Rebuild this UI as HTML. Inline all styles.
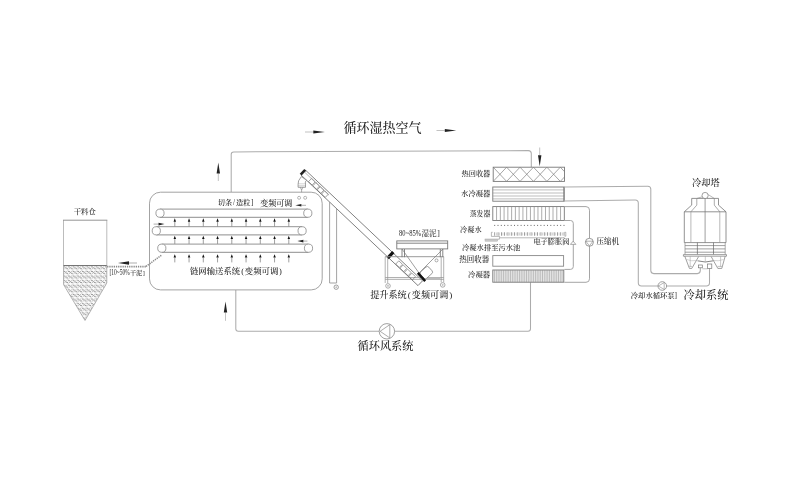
<!DOCTYPE html>
<html lang="zh-CN">
<head>
<meta charset="utf-8">
<title>循环湿热空气 污泥干化系统流程图</title>
<style>
html,body{margin:0;padding:0;background:#fff;}
body{width:786px;height:478px;overflow:hidden;}
svg{display:block;will-change:transform;font-family:"Liberation Serif","Noto Serif CJK SC",serif;}
</style>
</head>
<body>
<svg width="786" height="478" viewBox="0 0 786 478">
<rect x="0" y="0" width="786" height="478" fill="#ffffff"/>
<text x="382.50" y="131.50" font-size="13" text-anchor="middle" fill="#222" font-weight="500" >循环湿热空气</text>
<line x1="305.00" y1="132.00" x2="313.30" y2="132.00" stroke="#999" stroke-width="0.6" />
<polygon points="324.80,132.00 313.30,133.60 313.30,130.40" fill="#222"/>
<line x1="436.50" y1="130.50" x2="444.80" y2="130.50" stroke="#999" stroke-width="0.6" />
<polygon points="456.30,130.50 444.80,132.10 444.80,128.90" fill="#222"/>
<path d="M231.2,192 V154.4 Q231.2,151.9 233.7,151.9 L528.3,150.6 Q531.3,150.6 531.3,153.6 V167" stroke="#acacac" stroke-width="1.05" fill="none" />
<path d="M235.8,290 V328.8 Q235.8,331.3 238.3,331.3 H528 Q530.5,331.3 530.5,328.8 V282.3" stroke="#acacac" stroke-width="1.05" fill="none" />
<line x1="218.30" y1="181.00" x2="218.30" y2="173.50" stroke="#999" stroke-width="0.6" />
<polygon points="218.30,162.50 220.00,173.50 216.60,173.50" fill="#222"/>
<line x1="225.50" y1="320.80" x2="225.50" y2="312.50" stroke="#999" stroke-width="0.6" />
<polygon points="225.50,301.50 227.20,312.50 223.80,312.50" fill="#222"/>
<line x1="539.70" y1="147.50" x2="539.70" y2="155.30" stroke="#999" stroke-width="0.6" />
<polygon points="539.70,166.30 538.00,155.30 541.40,155.30" fill="#222"/>
<circle cx="386.90" cy="331.30" r="7.70" stroke="#888" stroke-width="0.8" fill="#fff"/>
<path d="M380.1,331.3 L389.8,324.7 V337.9 Z" stroke="#888" stroke-width="0.7" fill="none" />
<text x="385.50" y="350.30" font-size="11.2" text-anchor="middle" fill="#222" font-weight="500" >循环风系统</text>
<defs><pattern id="hat" width="4.6" height="4.6" patternUnits="userSpaceOnUse" patternTransform="translate(63.5 265.5)"><rect width="4.6" height="4.6" fill="#fbfbfb"/><path d="M-0.6,1.2 Q1.2,0.7 2.3,2.3 T5.2,3.4 M-0.6,-3.4 Q1.2,-3.9 2.3,-2.3 T5.2,-1.2 M-0.6,5.8 Q1.2,5.3 2.3,6.9 T5.2,8" stroke="#666" stroke-width="0.75" fill="none"/><path d="M0.5,4.1 L4.1,0.5" stroke="#9a9a9a" stroke-width="0.6" fill="none"/></pattern></defs>
<polygon points="63.5,265.3 106.8,265.3 106.8,283 85,320.5 63.5,284.5" fill="url(#hat)" stroke="none"/>
<path d="M63.5,265.3 V220.2 M106.8,220.2 V265.3" stroke="#b4b4b4" stroke-width="0.9" fill="none" />
<line x1="63.00" y1="220.20" x2="107.30" y2="220.20" stroke="#888" stroke-width="0.9" />
<path d="M63.5,265.3 V284.5 L85,320.5 L106.8,283 V265.3" stroke="#999" stroke-width="0.7" fill="none" />
<line x1="63.50" y1="265.50" x2="106.80" y2="265.50" stroke="#666" stroke-width="0.9" />
<text x="84.80" y="213.80" font-size="7.4" text-anchor="middle" fill="#222" font-weight="500" >干料仓</text>
<line x1="107.10" y1="266.60" x2="146.00" y2="266.60" stroke="#8a8a8a" stroke-width="1.7" stroke-dasharray="1.3 0.9"/>
<line x1="146.00" y1="266.40" x2="162.00" y2="254.80" stroke="#8a8a8a" stroke-width="1.5" stroke-dasharray="1.3 0.9"/>
<line x1="137.00" y1="263.00" x2="129.00" y2="263.00" stroke="#777" stroke-width="0.6" />
<polygon points="118.00,263.00 129.00,261.30 129.00,264.70" fill="#222"/>
<text transform="translate(109.50 275.40) scale(0.74 1)" font-size="7.4" fill="#222" font-weight="400">[10~50%</text>
<text x="130.00" y="275.40" font-size="6.1" text-anchor="start" fill="#222" font-weight="500" >干泥<tspan dx="0.5">]</tspan></text>
<rect x="149.50" y="192.20" width="172.70" height="97.70" rx="11" stroke="#999" stroke-width="0.9" fill="none" />
<line x1="160.00" y1="209.10" x2="307.80" y2="209.10" stroke="#888" stroke-width="0.9" />
<line x1="160.00" y1="217.30" x2="307.80" y2="217.30" stroke="#808080" stroke-width="0.9" />
<circle cx="160.00" cy="213.20" r="4.10" stroke="#888" stroke-width="0.8" fill="#fff"/>
<circle cx="307.80" cy="213.20" r="4.10" stroke="#888" stroke-width="0.8" fill="#fff"/>
<line x1="156.30" y1="226.70" x2="302.10" y2="226.70" stroke="#888" stroke-width="0.9" />
<line x1="156.30" y1="234.90" x2="302.10" y2="234.90" stroke="#808080" stroke-width="0.9" />
<circle cx="156.30" cy="230.80" r="4.10" stroke="#888" stroke-width="0.8" fill="#fff"/>
<circle cx="302.10" cy="230.80" r="4.10" stroke="#888" stroke-width="0.8" fill="#fff"/>
<line x1="161.80" y1="244.10" x2="308.50" y2="244.10" stroke="#888" stroke-width="0.9" />
<line x1="161.80" y1="252.30" x2="308.50" y2="252.30" stroke="#808080" stroke-width="0.9" />
<circle cx="161.80" cy="248.20" r="4.10" stroke="#888" stroke-width="0.8" fill="#fff"/>
<circle cx="308.50" cy="248.20" r="4.10" stroke="#888" stroke-width="0.8" fill="#fff"/>
<line x1="174.80" y1="226.50" x2="174.80" y2="221.70" stroke="#777" stroke-width="0.7" />
<polygon points="174.80,218.30 176.05,221.70 173.55,221.70" fill="#111"/>
<line x1="189.05" y1="226.50" x2="189.05" y2="221.70" stroke="#777" stroke-width="0.7" />
<polygon points="189.05,218.30 190.30,221.70 187.80,221.70" fill="#111"/>
<line x1="203.30" y1="226.50" x2="203.30" y2="221.70" stroke="#777" stroke-width="0.7" />
<polygon points="203.30,218.30 204.55,221.70 202.05,221.70" fill="#111"/>
<line x1="217.55" y1="226.50" x2="217.55" y2="221.70" stroke="#777" stroke-width="0.7" />
<polygon points="217.55,218.30 218.80,221.70 216.30,221.70" fill="#111"/>
<line x1="231.80" y1="226.50" x2="231.80" y2="221.70" stroke="#777" stroke-width="0.7" />
<polygon points="231.80,218.30 233.05,221.70 230.55,221.70" fill="#111"/>
<line x1="246.05" y1="226.50" x2="246.05" y2="221.70" stroke="#777" stroke-width="0.7" />
<polygon points="246.05,218.30 247.30,221.70 244.80,221.70" fill="#111"/>
<line x1="260.30" y1="226.50" x2="260.30" y2="221.70" stroke="#777" stroke-width="0.7" />
<polygon points="260.30,218.30 261.55,221.70 259.05,221.70" fill="#111"/>
<line x1="274.55" y1="226.50" x2="274.55" y2="221.70" stroke="#777" stroke-width="0.7" />
<polygon points="274.55,218.30 275.80,221.70 273.30,221.70" fill="#111"/>
<line x1="288.80" y1="226.50" x2="288.80" y2="221.70" stroke="#777" stroke-width="0.7" />
<polygon points="288.80,218.30 290.05,221.70 287.55,221.70" fill="#111"/>
<line x1="174.80" y1="243.90" x2="174.80" y2="239.10" stroke="#777" stroke-width="0.7" />
<polygon points="174.80,235.70 176.05,239.10 173.55,239.10" fill="#111"/>
<line x1="189.05" y1="243.90" x2="189.05" y2="239.10" stroke="#777" stroke-width="0.7" />
<polygon points="189.05,235.70 190.30,239.10 187.80,239.10" fill="#111"/>
<line x1="203.30" y1="243.90" x2="203.30" y2="239.10" stroke="#777" stroke-width="0.7" />
<polygon points="203.30,235.70 204.55,239.10 202.05,239.10" fill="#111"/>
<line x1="217.55" y1="243.90" x2="217.55" y2="239.10" stroke="#777" stroke-width="0.7" />
<polygon points="217.55,235.70 218.80,239.10 216.30,239.10" fill="#111"/>
<line x1="231.80" y1="243.90" x2="231.80" y2="239.10" stroke="#777" stroke-width="0.7" />
<polygon points="231.80,235.70 233.05,239.10 230.55,239.10" fill="#111"/>
<line x1="246.05" y1="243.90" x2="246.05" y2="239.10" stroke="#777" stroke-width="0.7" />
<polygon points="246.05,235.70 247.30,239.10 244.80,239.10" fill="#111"/>
<line x1="260.30" y1="243.90" x2="260.30" y2="239.10" stroke="#777" stroke-width="0.7" />
<polygon points="260.30,235.70 261.55,239.10 259.05,239.10" fill="#111"/>
<line x1="274.55" y1="243.90" x2="274.55" y2="239.10" stroke="#777" stroke-width="0.7" />
<polygon points="274.55,235.70 275.80,239.10 273.30,239.10" fill="#111"/>
<line x1="288.80" y1="243.90" x2="288.80" y2="239.10" stroke="#777" stroke-width="0.7" />
<polygon points="288.80,235.70 290.05,239.10 287.55,239.10" fill="#111"/>
<line x1="174.80" y1="262.40" x2="174.80" y2="257.60" stroke="#777" stroke-width="0.7" />
<polygon points="174.80,254.20 176.05,257.60 173.55,257.60" fill="#111"/>
<line x1="189.05" y1="262.40" x2="189.05" y2="257.60" stroke="#777" stroke-width="0.7" />
<polygon points="189.05,254.20 190.30,257.60 187.80,257.60" fill="#111"/>
<line x1="203.30" y1="262.40" x2="203.30" y2="257.60" stroke="#777" stroke-width="0.7" />
<polygon points="203.30,254.20 204.55,257.60 202.05,257.60" fill="#111"/>
<line x1="217.55" y1="262.40" x2="217.55" y2="257.60" stroke="#777" stroke-width="0.7" />
<polygon points="217.55,254.20 218.80,257.60 216.30,257.60" fill="#111"/>
<line x1="231.80" y1="262.40" x2="231.80" y2="257.60" stroke="#777" stroke-width="0.7" />
<polygon points="231.80,254.20 233.05,257.60 230.55,257.60" fill="#111"/>
<line x1="246.05" y1="262.40" x2="246.05" y2="257.60" stroke="#777" stroke-width="0.7" />
<polygon points="246.05,254.20 247.30,257.60 244.80,257.60" fill="#111"/>
<line x1="260.30" y1="262.40" x2="260.30" y2="257.60" stroke="#777" stroke-width="0.7" />
<polygon points="260.30,254.20 261.55,257.60 259.05,257.60" fill="#111"/>
<line x1="274.55" y1="262.40" x2="274.55" y2="257.60" stroke="#777" stroke-width="0.7" />
<polygon points="274.55,254.20 275.80,257.60 273.30,257.60" fill="#111"/>
<line x1="288.80" y1="262.40" x2="288.80" y2="257.60" stroke="#777" stroke-width="0.7" />
<polygon points="288.80,254.20 290.05,257.60 287.55,257.60" fill="#111"/>
<line x1="153.60" y1="224.10" x2="158.50" y2="224.10" stroke="#777" stroke-width="0.6" />
<polygon points="164.50,224.10 158.50,225.40 158.50,222.80" fill="#222"/>
<line x1="306.00" y1="205.30" x2="301.40" y2="205.30" stroke="#777" stroke-width="0.6" />
<polygon points="295.40,205.30 301.40,204.00 301.40,206.60" fill="#222"/>
<line x1="307.40" y1="241.10" x2="303.40" y2="241.10" stroke="#777" stroke-width="0.6" />
<polygon points="297.40,241.10 303.40,239.80 303.40,242.40" fill="#222"/>
<text x="217.80" y="205.20" font-size="7.2" text-anchor="start" fill="#222" font-weight="500" >切条<tspan dx="0.9">/</tspan><tspan dx="0.9">造粒</tspan><tspan dx="0.5">]</tspan></text>
<text x="260.30" y="206.30" font-size="8" text-anchor="start" fill="#222" font-weight="500" >变频可调</text>
<text x="190.00" y="274.00" font-size="8.4" text-anchor="start" fill="#222" font-weight="500" >链网输送系统<tspan dx="0.9">(</tspan><tspan dx="0.9">变频可调</tspan><tspan dx="0.6">)</tspan></text>
<circle cx="299.10" cy="197.80" r="1.50" stroke="#888" stroke-width="0.6" fill="#fff"/>
<circle cx="305.20" cy="197.80" r="1.50" stroke="#888" stroke-width="0.6" fill="#fff"/>
<path d="M305.57,170.20 L422.55,280.82 L418.01,285.62 L301.03,175.00 Z" stroke="#6a6a6a" stroke-width="0.85" fill="#fff" />
<polygon points="304.26,168.97 306.15,170.75 301.61,175.55 299.72,173.76" fill="#222"/>
<path d="M311.60,178.38 L315.23,181.82 L312.14,185.09 L308.50,181.65 Z" stroke="#666" stroke-width="0.6" fill="none" />
<path d="M315.96,182.50 L319.59,185.94 L316.50,189.21 L312.86,185.77 Z" stroke="#666" stroke-width="0.6" fill="none" />
<path d="M320.32,186.63 L323.95,190.06 L320.86,193.33 L317.22,189.90 Z" stroke="#666" stroke-width="0.6" fill="none" />
<path d="M324.67,190.75 L328.31,194.18 L325.22,197.45 L321.58,194.02 Z" stroke="#666" stroke-width="0.6" fill="none" />
<path d="M301.3,176.6 L298.6,180.8 L298.1,184.2 H305.5 L305.3,182 L306.6,180.2 Z" stroke="#777777" stroke-width="0.7" fill="#fff" />
<path d="M298.1,184.2 V187.3 H305.5 V184.2" stroke="#777777" stroke-width="0.7" fill="#fff" />
<line x1="298.10" y1="185.80" x2="305.50" y2="185.80" stroke="#999" stroke-width="0.5" />
<path d="M300.3,187.3 L301.6,190 L302.9,187.3" stroke="#777777" stroke-width="0.6" fill="none" />
<line x1="301.60" y1="190.00" x2="301.60" y2="192.20" stroke="#777777" stroke-width="0.6" />
<line x1="304.85" y1="172.42" x2="328.83" y2="195.09" stroke="#888" stroke-width="0.6" />
<polygon points="392.14,250.97 394.47,253.17 388.83,259.13 386.51,256.93" fill="#111"/>
<line x1="329.60" y1="202.00" x2="329.60" y2="283.00" stroke="#999" stroke-width="0.9" />
<line x1="336.60" y1="209.00" x2="336.60" y2="283.00" stroke="#999" stroke-width="0.9" />
<line x1="329.60" y1="283.00" x2="336.60" y2="283.00" stroke="#999" stroke-width="0.9" />
<circle cx="336.20" cy="287.20" r="2.20" stroke="#777777" stroke-width="0.7" fill="#fff"/>
<circle cx="336.20" cy="287.20" r="0.50" stroke="#777777" stroke-width="0.5" fill="#fff"/>
<line x1="385.20" y1="256.70" x2="443.70" y2="256.70" stroke="#909090" stroke-width="0.9" />
<line x1="385.20" y1="256.70" x2="385.20" y2="283.00" stroke="#909090" stroke-width="0.7" />
<line x1="387.70" y1="256.70" x2="387.70" y2="283.00" stroke="#909090" stroke-width="0.7" />
<line x1="441.20" y1="256.70" x2="441.20" y2="282.30" stroke="#909090" stroke-width="0.7" />
<line x1="443.70" y1="256.70" x2="443.70" y2="282.30" stroke="#909090" stroke-width="0.7" />
<line x1="385.20" y1="277.60" x2="443.70" y2="277.60" stroke="#909090" stroke-width="0.8" />
<line x1="385.20" y1="279.40" x2="443.70" y2="279.40" stroke="#909090" stroke-width="0.7" />
<line x1="426.00" y1="278.40" x2="440.50" y2="278.40" stroke="#bbb" stroke-width="1.8" />
<circle cx="388.00" cy="285.90" r="2.30" stroke="#888" stroke-width="0.7" fill="#fff"/>
<circle cx="388.00" cy="285.90" r="0.60" stroke="#888" stroke-width="0.5" fill="#fff"/>
<circle cx="442.70" cy="284.90" r="2.30" stroke="#888" stroke-width="0.7" fill="#fff"/>
<circle cx="442.70" cy="284.90" r="0.60" stroke="#888" stroke-width="0.5" fill="#fff"/>
<rect x="396.80" y="240.90" width="50.90" height="8.00" rx="0" stroke="#777777" stroke-width="0.9" fill="none" />
<line x1="396.80" y1="243.20" x2="447.70" y2="243.20" stroke="#777777" stroke-width="0.9" />
<line x1="402.00" y1="249.00" x2="402.00" y2="257.20" stroke="#777777" stroke-width="0.9" />
<line x1="404.50" y1="249.00" x2="404.50" y2="257.20" stroke="#777777" stroke-width="0.9" />
<line x1="442.80" y1="249.00" x2="442.80" y2="257.20" stroke="#777777" stroke-width="0.9" />
<line x1="440.30" y1="249.00" x2="440.30" y2="257.20" stroke="#777777" stroke-width="0.9" />
<path d="M402,249 L419,273 L443,249" stroke="#777777" stroke-width="0.7" fill="none" />
<path d="M398.79,260.83 L402.42,264.27 L399.33,267.54 L395.69,264.10 Z" stroke="#666" stroke-width="0.6" fill="none" />
<path d="M403.14,264.95 L406.78,268.39 L403.69,271.66 L400.05,268.22 Z" stroke="#666" stroke-width="0.6" fill="none" />
<path d="M407.50,269.08 L411.14,272.51 L408.05,275.78 L404.41,272.35 Z" stroke="#666" stroke-width="0.6" fill="none" />
<path d="M411.86,273.20 L415.50,276.63 L412.40,279.90 L408.77,276.47 Z" stroke="#666" stroke-width="0.6" fill="none" />
<g transform="rotate(-42 421.5 277)">
<rect x="422.50" y="272.60" width="11.00" height="8.80" rx="2" stroke="#777777" stroke-width="0.7" fill="#fff" />
<rect x="420.3" y="271.5" width="2.4" height="11" fill="#111"/>
</g>
<circle cx="436.50" cy="260.40" r="1.50" stroke="#777777" stroke-width="0.6" fill="#fff"/>
<text transform="translate(399.10 235.80) scale(0.78 1)" font-size="8.4" fill="#222" font-weight="400">80~85%</text>
<text x="421.40" y="235.80" font-size="7.6" text-anchor="start" fill="#222" font-weight="400" >湿泥<tspan dx="0.6">]</tspan></text>
<text x="370.20" y="298.20" font-size="9.15" text-anchor="start" fill="#222" font-weight="500" >提升系统<tspan dx="1">(</tspan><tspan dx="1.1">变频可调</tspan><tspan dx="0.8">)</tspan></text>
<clipPath id="hx"><rect x="493.2" y="167.2" width="71.3" height="14.2"/></clipPath>
<g clip-path="url(#hx)">
<line x1="493.20" y1="167.20" x2="506.62" y2="181.40" stroke="#808080" stroke-width="0.7" />
<line x1="493.20" y1="181.40" x2="506.62" y2="167.20" stroke="#808080" stroke-width="0.7" />
<line x1="506.62" y1="167.20" x2="520.04" y2="181.40" stroke="#808080" stroke-width="0.7" />
<line x1="506.62" y1="181.40" x2="520.04" y2="167.20" stroke="#808080" stroke-width="0.7" />
<line x1="520.04" y1="167.20" x2="533.46" y2="181.40" stroke="#808080" stroke-width="0.7" />
<line x1="520.04" y1="181.40" x2="533.46" y2="167.20" stroke="#808080" stroke-width="0.7" />
<line x1="533.46" y1="167.20" x2="546.88" y2="181.40" stroke="#808080" stroke-width="0.7" />
<line x1="533.46" y1="181.40" x2="546.88" y2="167.20" stroke="#808080" stroke-width="0.7" />
<line x1="546.88" y1="167.20" x2="560.30" y2="181.40" stroke="#808080" stroke-width="0.7" />
<line x1="546.88" y1="181.40" x2="560.30" y2="167.20" stroke="#808080" stroke-width="0.7" />
<line x1="560.30" y1="167.20" x2="573.72" y2="181.40" stroke="#808080" stroke-width="0.7" />
<line x1="560.30" y1="181.40" x2="573.72" y2="167.20" stroke="#808080" stroke-width="0.7" />
</g>
<rect x="493.20" y="167.20" width="71.30" height="14.20" rx="0" stroke="#777777" stroke-width="0.9" fill="none" />
<rect x="492.80" y="187.00" width="71.50" height="14.20" rx="0" stroke="#777777" stroke-width="0.9" fill="none" />
<line x1="492.80" y1="189.90" x2="564.30" y2="189.90" stroke="#909090" stroke-width="0.6" />
<line x1="492.80" y1="193.00" x2="564.30" y2="193.00" stroke="#909090" stroke-width="0.6" />
<line x1="492.80" y1="196.00" x2="564.30" y2="196.00" stroke="#909090" stroke-width="0.6" />
<line x1="492.80" y1="198.90" x2="564.30" y2="198.90" stroke="#909090" stroke-width="0.6" />
<line x1="563.50" y1="187.00" x2="563.50" y2="201.20" stroke="#777777" stroke-width="0.6" />
<rect x="492.80" y="206.60" width="71.50" height="13.90" rx="0" stroke="#777777" stroke-width="0.9" fill="none" />
<line x1="496.56" y1="206.60" x2="496.56" y2="220.50" stroke="#8a8a8a" stroke-width="0.7" />
<line x1="500.33" y1="206.60" x2="500.33" y2="220.50" stroke="#8a8a8a" stroke-width="0.7" />
<line x1="504.09" y1="206.60" x2="504.09" y2="220.50" stroke="#8a8a8a" stroke-width="0.7" />
<line x1="507.85" y1="206.60" x2="507.85" y2="220.50" stroke="#8a8a8a" stroke-width="0.7" />
<line x1="511.62" y1="206.60" x2="511.62" y2="220.50" stroke="#8a8a8a" stroke-width="0.7" />
<line x1="515.38" y1="206.60" x2="515.38" y2="220.50" stroke="#8a8a8a" stroke-width="0.7" />
<line x1="519.14" y1="206.60" x2="519.14" y2="220.50" stroke="#8a8a8a" stroke-width="0.7" />
<line x1="522.91" y1="206.60" x2="522.91" y2="220.50" stroke="#8a8a8a" stroke-width="0.7" />
<line x1="526.67" y1="206.60" x2="526.67" y2="220.50" stroke="#8a8a8a" stroke-width="0.7" />
<line x1="530.43" y1="206.60" x2="530.43" y2="220.50" stroke="#8a8a8a" stroke-width="0.7" />
<line x1="534.19" y1="206.60" x2="534.19" y2="220.50" stroke="#8a8a8a" stroke-width="0.7" />
<line x1="537.96" y1="206.60" x2="537.96" y2="220.50" stroke="#8a8a8a" stroke-width="0.7" />
<line x1="541.72" y1="206.60" x2="541.72" y2="220.50" stroke="#8a8a8a" stroke-width="0.7" />
<line x1="545.48" y1="206.60" x2="545.48" y2="220.50" stroke="#8a8a8a" stroke-width="0.7" />
<line x1="549.25" y1="206.60" x2="549.25" y2="220.50" stroke="#8a8a8a" stroke-width="0.7" />
<line x1="553.01" y1="206.60" x2="553.01" y2="220.50" stroke="#8a8a8a" stroke-width="0.7" />
<line x1="556.77" y1="206.60" x2="556.77" y2="220.50" stroke="#8a8a8a" stroke-width="0.7" />
<line x1="560.54" y1="206.60" x2="560.54" y2="220.50" stroke="#8a8a8a" stroke-width="0.7" />
<line x1="494.20" y1="225.40" x2="565.00" y2="225.40" stroke="#666" stroke-width="1" stroke-dasharray="1 2.3"/>
<line x1="494.40" y1="234.00" x2="564.50" y2="234.00" stroke="#777" stroke-width="3.4" stroke-dasharray="0.7 2.6"/>
<line x1="496.05" y1="234.00" x2="563.00" y2="234.00" stroke="#bbb" stroke-width="3.2" stroke-dasharray="0.6 2.7"/>
<path d="M492.6,232.3 H491.4 V236.4 H499.6 V237.8 H564.5 M564.6,232.3 H565.8 V236.2 H564.6" stroke="#888" stroke-width="0.6" fill="none" />
<path d="M484.8,239.2 H499.4 V237.8" stroke="#888" stroke-width="0.6" fill="none" />
<rect x="485.00" y="239.60" width="12.80" height="1.60" rx="0" stroke="#aaa" stroke-width="0.4" fill="#c8c8c8" />
<rect x="492.80" y="255.60" width="70.80" height="10.60" rx="0" stroke="#888" stroke-width="0.9" fill="none" />
<rect x="492.80" y="270.00" width="71.00" height="12.20" rx="0" stroke="#777777" stroke-width="0.9" fill="#f0f0f0" />
<line x1="494.57" y1="270.00" x2="494.57" y2="282.20" stroke="#909090" stroke-width="0.55" />
<line x1="496.35" y1="270.00" x2="496.35" y2="282.20" stroke="#909090" stroke-width="0.55" />
<line x1="498.12" y1="270.00" x2="498.12" y2="282.20" stroke="#909090" stroke-width="0.55" />
<line x1="499.90" y1="270.00" x2="499.90" y2="282.20" stroke="#909090" stroke-width="0.55" />
<line x1="501.68" y1="270.00" x2="501.68" y2="282.20" stroke="#909090" stroke-width="0.55" />
<line x1="503.45" y1="270.00" x2="503.45" y2="282.20" stroke="#909090" stroke-width="0.55" />
<line x1="505.23" y1="270.00" x2="505.23" y2="282.20" stroke="#909090" stroke-width="0.55" />
<line x1="507.00" y1="270.00" x2="507.00" y2="282.20" stroke="#909090" stroke-width="0.55" />
<line x1="508.77" y1="270.00" x2="508.77" y2="282.20" stroke="#909090" stroke-width="0.55" />
<line x1="510.55" y1="270.00" x2="510.55" y2="282.20" stroke="#909090" stroke-width="0.55" />
<line x1="512.33" y1="270.00" x2="512.33" y2="282.20" stroke="#909090" stroke-width="0.55" />
<line x1="514.10" y1="270.00" x2="514.10" y2="282.20" stroke="#909090" stroke-width="0.55" />
<line x1="515.88" y1="270.00" x2="515.88" y2="282.20" stroke="#909090" stroke-width="0.55" />
<line x1="517.65" y1="270.00" x2="517.65" y2="282.20" stroke="#909090" stroke-width="0.55" />
<line x1="519.42" y1="270.00" x2="519.42" y2="282.20" stroke="#909090" stroke-width="0.55" />
<line x1="521.20" y1="270.00" x2="521.20" y2="282.20" stroke="#909090" stroke-width="0.55" />
<line x1="522.98" y1="270.00" x2="522.98" y2="282.20" stroke="#909090" stroke-width="0.55" />
<line x1="524.75" y1="270.00" x2="524.75" y2="282.20" stroke="#909090" stroke-width="0.55" />
<line x1="526.52" y1="270.00" x2="526.52" y2="282.20" stroke="#909090" stroke-width="0.55" />
<line x1="528.30" y1="270.00" x2="528.30" y2="282.20" stroke="#909090" stroke-width="0.55" />
<line x1="530.07" y1="270.00" x2="530.07" y2="282.20" stroke="#909090" stroke-width="0.55" />
<line x1="531.85" y1="270.00" x2="531.85" y2="282.20" stroke="#909090" stroke-width="0.55" />
<line x1="533.62" y1="270.00" x2="533.62" y2="282.20" stroke="#909090" stroke-width="0.55" />
<line x1="535.40" y1="270.00" x2="535.40" y2="282.20" stroke="#909090" stroke-width="0.55" />
<line x1="537.17" y1="270.00" x2="537.17" y2="282.20" stroke="#909090" stroke-width="0.55" />
<line x1="538.95" y1="270.00" x2="538.95" y2="282.20" stroke="#909090" stroke-width="0.55" />
<line x1="540.73" y1="270.00" x2="540.73" y2="282.20" stroke="#909090" stroke-width="0.55" />
<line x1="542.50" y1="270.00" x2="542.50" y2="282.20" stroke="#909090" stroke-width="0.55" />
<line x1="544.27" y1="270.00" x2="544.27" y2="282.20" stroke="#909090" stroke-width="0.55" />
<line x1="546.05" y1="270.00" x2="546.05" y2="282.20" stroke="#909090" stroke-width="0.55" />
<line x1="547.82" y1="270.00" x2="547.82" y2="282.20" stroke="#909090" stroke-width="0.55" />
<line x1="549.60" y1="270.00" x2="549.60" y2="282.20" stroke="#909090" stroke-width="0.55" />
<line x1="551.38" y1="270.00" x2="551.38" y2="282.20" stroke="#909090" stroke-width="0.55" />
<line x1="553.15" y1="270.00" x2="553.15" y2="282.20" stroke="#909090" stroke-width="0.55" />
<line x1="554.92" y1="270.00" x2="554.92" y2="282.20" stroke="#909090" stroke-width="0.55" />
<line x1="556.70" y1="270.00" x2="556.70" y2="282.20" stroke="#909090" stroke-width="0.55" />
<line x1="558.47" y1="270.00" x2="558.47" y2="282.20" stroke="#909090" stroke-width="0.55" />
<line x1="560.25" y1="270.00" x2="560.25" y2="282.20" stroke="#909090" stroke-width="0.55" />
<line x1="562.02" y1="270.00" x2="562.02" y2="282.20" stroke="#909090" stroke-width="0.55" />
<path d="M564.3,206.6 H586 Q589.5,206.6 589.5,210.2 V278.8 Q589.5,282.3 586,282.3 H564.3" stroke="#a0a0a0" stroke-width="0.95" fill="none" />
<path d="M564.3,220.5 H570.5 Q573.3,220.5 573.3,223.3 V266.6 Q573.3,269.4 570.5,269.4 H564.3" stroke="#a0a0a0" stroke-width="0.95" fill="none" />
<path d="M573.1,241.2 L570.4,244.4 H575.9 Z" stroke="#777777" stroke-width="0.6" fill="#fff" />
<circle cx="589.40" cy="242.30" r="4.00" stroke="#808080" stroke-width="0.8" fill="#fff"/>
<path d="M585.8,241.2 H593 L589.4,245.8 Z" stroke="#808080" stroke-width="0.6" fill="none" />
<text x="490.30" y="175.70" font-size="7.2" text-anchor="end" fill="#222" font-weight="500" >热回收器</text>
<text x="490.30" y="196.20" font-size="7.3" text-anchor="end" fill="#222" font-weight="500" >水冷凝器</text>
<text x="490.30" y="215.50" font-size="6.9" text-anchor="end" fill="#222" font-weight="500" >蒸发器</text>
<text x="460.00" y="231.70" font-size="7.2" text-anchor="start" fill="#222" font-weight="500" >冷凝水</text>
<text x="462.00" y="250.10" font-size="7.3" text-anchor="start" fill="#222" font-weight="500" >冷凝水排至污水池</text>
<text x="533.40" y="244.30" font-size="7.2" text-anchor="start" fill="#222" font-weight="500" >电子膨胀阀</text>
<text x="596.60" y="243.90" font-size="7.5" text-anchor="start" fill="#222" font-weight="500" >压缩机</text>
<text x="489.20" y="262.10" font-size="7.5" text-anchor="end" fill="#222" font-weight="500" >热回收器</text>
<text x="490.20" y="277.30" font-size="7.4" text-anchor="end" fill="#222" font-weight="500" >冷凝器</text>
<path d="M564.3,186.9 L647.8,186.3 Q650.8,186.3 650.8,189.3 V270.6 Q650.8,273.6 653.8,273.6 H697.3 Q700.3,273.6 700.3,270.6 V267.5" stroke="#acacac" stroke-width="1.05" fill="none" />
<path d="M564.3,201 L635.2,199.9 Q638.3,199.9 638.3,203 V282.8 Q638.3,286 641.5,286 H706.3 Q709.5,286 709.5,282.8 V267.5" stroke="#acacac" stroke-width="1.05" fill="none" />
<circle cx="662.30" cy="286.00" r="4.30" stroke="#888" stroke-width="0.8" fill="#fff"/>
<path d="M658.3,286 L664.2,282.6 V289.4 Z" stroke="#888" stroke-width="0.6" fill="none" />
<text x="630.80" y="297.80" font-size="7.3" text-anchor="start" fill="#222" font-weight="500" >冷却水循环泵]</text>
<text x="706.00" y="299.20" font-size="11.2" text-anchor="middle" fill="#222" font-weight="500" >冷却系统</text>
<text x="705.80" y="186.10" font-size="9.2" text-anchor="middle" fill="#222" font-weight="500" >冷却塔</text>
<path d="M691.7,198.4 H718.5 V205.1 L726,211.8 V242.6 H684.3 V211.8 L691.7,205.1 Z" stroke="#777" stroke-width="0.8" fill="#fff" />
<path d="M696.8,198.4 V205.1 L690.9,211.8 M714.3,198.4 V205.1 L719.8,211.8" stroke="#888" stroke-width="0.7" fill="none" />
<path d="M702.2,196.8 L697,198.4 M708.2,194.6 L714.3,198.4" stroke="#888" stroke-width="0.6" fill="none" />
<circle cx="705.10" cy="195.50" r="3.10" stroke="#777" stroke-width="0.7" fill="#fff"/>
<line x1="684.30" y1="211.80" x2="726.00" y2="211.80" stroke="#777" stroke-width="0.8" />
<line x1="705.10" y1="198.60" x2="705.10" y2="242.60" stroke="#777" stroke-width="0.7" />
<line x1="690.90" y1="211.80" x2="690.90" y2="242.60" stroke="#999" stroke-width="0.7" />
<line x1="719.80" y1="211.80" x2="719.80" y2="242.60" stroke="#999" stroke-width="0.7" />
<line x1="685.00" y1="245.60" x2="725.20" y2="245.60" stroke="#777" stroke-width="0.7" />
<line x1="685.00" y1="248.90" x2="725.20" y2="248.90" stroke="#777" stroke-width="0.7" />
<line x1="685.00" y1="252.20" x2="725.20" y2="252.20" stroke="#777" stroke-width="0.7" />
<path d="M685,242.6 V254.7 M725.2,242.6 V254.7" stroke="#888" stroke-width="0.7" fill="none" />
<line x1="697.40" y1="242.60" x2="697.40" y2="254.70" stroke="#666" stroke-width="0.7" />
<line x1="713.50" y1="242.60" x2="713.50" y2="254.70" stroke="#666" stroke-width="0.7" />
<path d="M683.4,254.6 H726.5 V256.2 H683.4 Z" stroke="#777" stroke-width="0.7" fill="#fff" />
<path d="M684.8,256.2 L689.4,268.4 H691.8 L698.6,256.6" stroke="#777" stroke-width="0.7" fill="none" />
<path d="M725.2,256.2 L721.8,268.4 H717.8 L711.2,256.6" stroke="#777" stroke-width="0.7" fill="none" />
<line x1="690.20" y1="256.40" x2="690.20" y2="266.50" stroke="#999" stroke-width="0.5" />
<line x1="720.60" y1="256.40" x2="720.60" y2="266.50" stroke="#999" stroke-width="0.5" />
<path d="M689.2,266.4 H692 M717.6,266.4 H722" stroke="#888" stroke-width="0.5" fill="none" />
<path d="M686.5,259.5 Q692,261.5 696.5,260.5 M723.5,259.5 Q718,261.5 713.3,260.5" stroke="#aaa" stroke-width="0.5" fill="none" />
<path d="M697.5,260.8 Q705.3,263.2 713.2,260.8" stroke="#666" stroke-width="0.8" fill="none" />
<line x1="705.30" y1="256.30" x2="705.30" y2="261.80" stroke="#999" stroke-width="0.5" />
<rect x="698.40" y="265.00" width="3.90" height="2.80" rx="0" stroke="#777" stroke-width="0.7" fill="#fff" />
<rect x="707.60" y="264.00" width="4.20" height="4.40" rx="0" stroke="#777" stroke-width="0.7" fill="#fff" />
<path d="M702.3,268.8 H707.6" stroke="#999" stroke-width="0.6" fill="none" />
</svg>
</body>
</html>
